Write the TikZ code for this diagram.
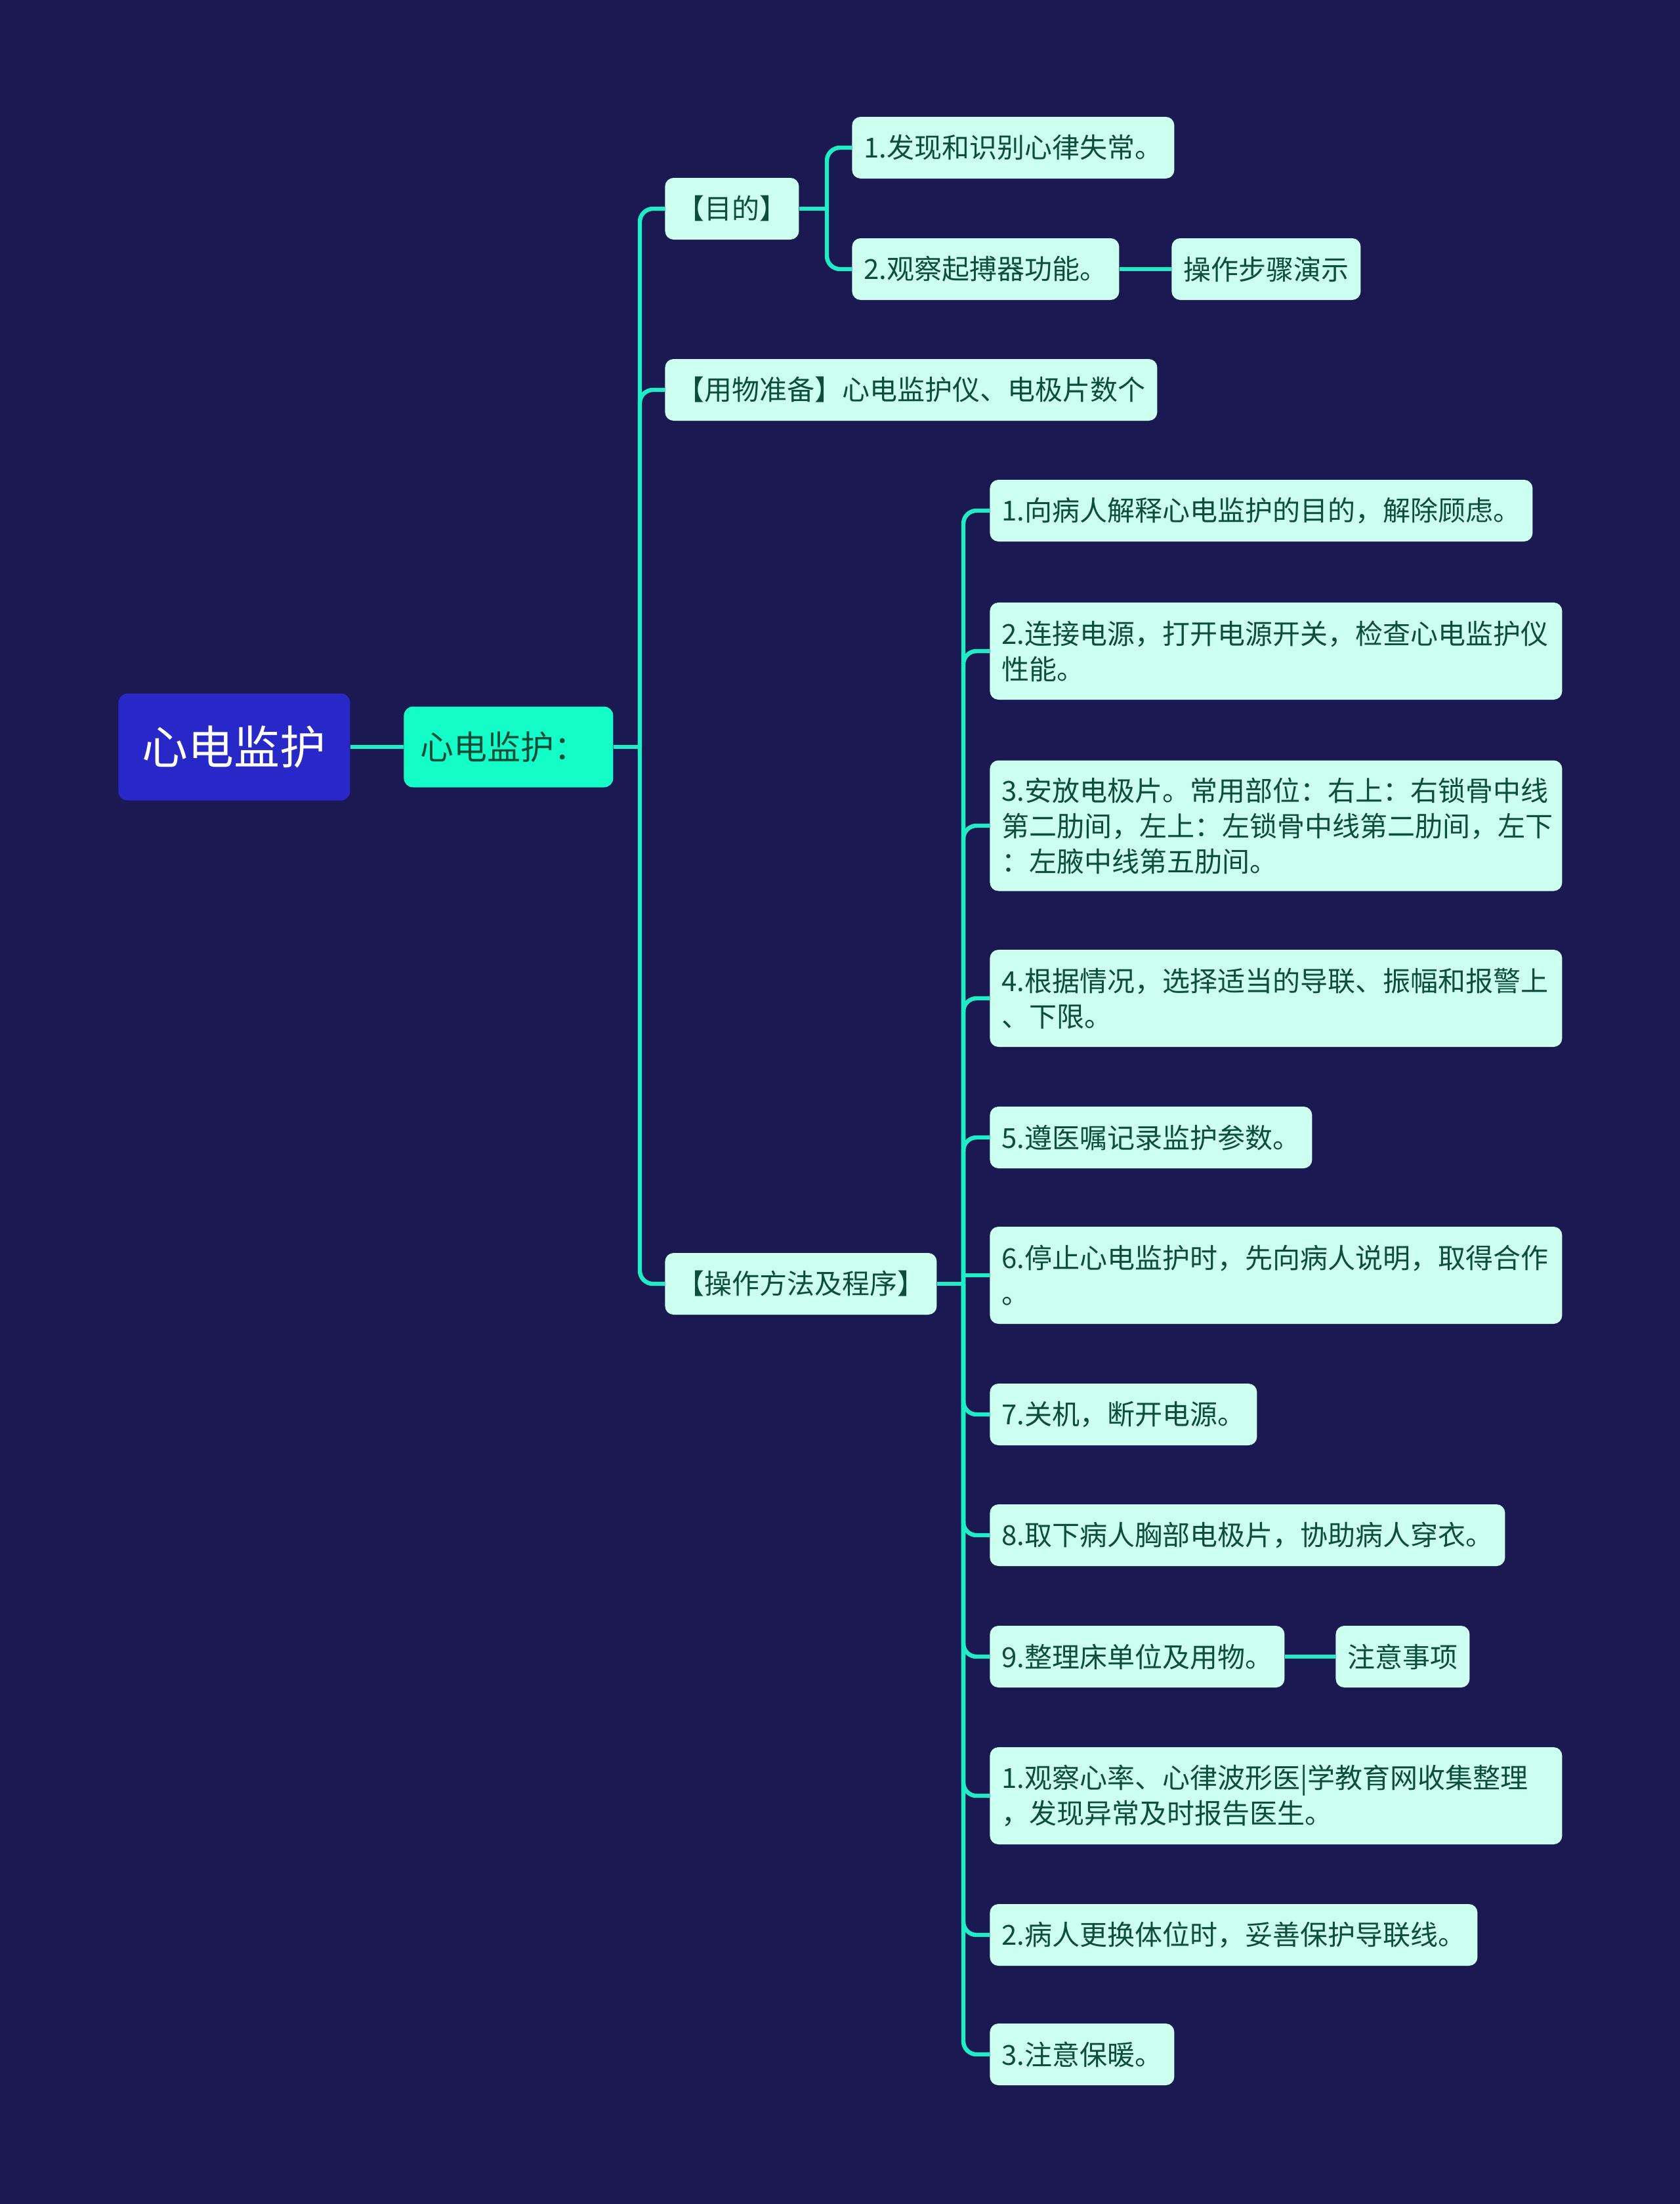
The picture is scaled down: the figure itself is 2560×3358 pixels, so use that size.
\documentclass[tikz,border=0pt]{standalone}
\usepackage{fontspec}
\setmainfont{Noto Sans CJK SC}
\definecolor{bgcol}{RGB}{27,25,82}
\definecolor{rootfill}{RGB}{40,40,200}
\definecolor{lonefill}{RGB}{20,252,200}
\definecolor{leaffill}{RGB}{205,255,240}
\definecolor{textgreen}{RGB}{12,78,58}
\definecolor{linecol}{RGB}{30,238,198}
\tikzset{
  rootbox/.style={fill=rootfill, text=white, rounded corners=7pt, font=\fontsize{35}{42}\selectfont,
    minimum width=176.5pt, minimum height=81.5pt, inner sep=0pt, anchor=west},
  lonebox/.style={fill=lonefill, text=textgreen, rounded corners=7pt, font=\fontsize{25.5}{30}\selectfont,
    text width=134.5pt, align=left, inner xsep=12.5pt, inner ysep=0pt, minimum height=61.5pt, anchor=west},
  leaf/.style={fill=leaffill, text=textgreen, rounded corners=6.5pt, font=\fontsize{21}{27}\selectfont,
    inner xsep=9pt, inner ysep=0pt, minimum height=47pt, anchor=west},
  multi/.style={leaf, text width=418pt, align=left},
  link/.style={draw=linecol, line width=3.2pt, rounded corners=10pt},
}
\begin{document}
\begin{tikzpicture}[x=0.5pt,y=-0.5pt]
\fill[bgcol] (0,0) rectangle (2560,3358);
\useasboundingbox (0,0) rectangle (2560,3358);

\node[rootbox] (root) at (180,1138) {心电监护};
\node[lonebox] (l1) at (615,1138) {心电监护：};

\node[leaf] (mudi) at (1013,318) {【目的】};
\node[leaf] (g1) at (1298,225) {1.发现和识别心律失常。};
\node[leaf] (g2) at (1298,410) {2.观察起搏器功能。};
\node[leaf] (demo) at (1785,410) {操作步骤演示};
\node[leaf] (prep) at (1013,594) {【用物准备】心电监护仪、电极片数个};
\node[leaf] (proc) at (1013,1956) {【操作方法及程序】};

\node[leaf] (c1) at (1508,778) {1.向病人解释心电监护的目的，解除顾虑。};
\node[multi, minimum height=74pt] (c2) at (1508,992) {2.连接电源，打开电源开关，检查心电监护仪\\性能。};
\node[multi, minimum height=99.5pt] (c3) at (1508,1258) {3.安放电极片。常用部位：右上：右锁骨中线\\第二肋间，左上：左锁骨中线第二肋间，左下\\：左腋中线第五肋间。};
\node[multi, minimum height=74pt] (c4) at (1508,1521) {4.根据情况，选择适当的导联、振幅和报警上\\、下限。};
\node[leaf] (c5) at (1508,1733) {5.遵医嘱记录监护参数。};
\node[multi, minimum height=74pt] (c6) at (1508,1943) {6.停止心电监护时，先向病人说明，取得合作\\。};
\node[leaf] (c7) at (1508,2155) {7.关机，断开电源。};
\node[leaf] (c8) at (1508,2339) {8.取下病人胸部电极片，协助病人穿衣。};
\node[leaf] (c9) at (1508,2524) {9.整理床单位及用物。};
\node[leaf] (note) at (2035,2524) {注意事项};
\node[multi, minimum height=74pt] (c10) at (1508,2736) {1.观察心率、心律波形医|学教育网收集整理\\，发现异常及时报告医生。};
\node[leaf] (c11) at (1508,2948) {2.病人更换体位时，妥善保护导联线。};
\node[leaf] (c12) at (1508,3130) {3.注意保暖。};

\draw[link] (root.east) -- (l1.west);
\coordinate (j1) at (975,1138);
\draw[link] (l1.east) -- (j1);
\foreach \n in {mudi,prep,proc} \draw[link] (j1) |- (\n.west);

\coordinate (j2) at (1260,318);
\draw[link] (mudi.east) -- (j2);
\foreach \n in {g1,g2} \draw[link] (j2) |- (\n.west);
\draw[link] (g2.east) -- (demo.west);

\coordinate (j3) at (1468,1956);
\draw[link] (proc.east) -- (j3);
\foreach \n in {c1,c2,c3,c4,c5,c7,c8,c9,c10,c11,c12} \draw[link] (j3) |- (\n.west);
\draw[link] (c6.west -| j3) -- (c6.west);
\draw[link] (c9.east) -- (note.west);
\end{tikzpicture}
\end{document}
